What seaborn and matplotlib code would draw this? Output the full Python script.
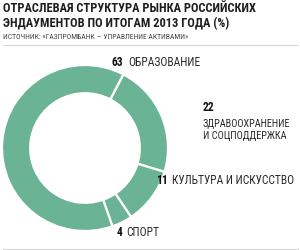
import matplotlib
matplotlib.use("Agg")
import matplotlib.pyplot as plt
import seaborn as sns
from matplotlib.lines import Line2D

# data (clockwise order starting from the top-right)
values = [22, 11, 4, 63]
names = ["ЗДРАВООХРАНЕНИЕ\nИ СОЦПОДДЕРЖКА", "КУЛЬТУРА И ИСКУССТВО", "СПОРТ", "ОБРАЗОВАНИЕ"]
title = "ОТРАСЛЕВАЯ СТРУКТУРА РЫНКА РОССИЙСКИХ\nЭНДАУМЕНТОВ ПО ИТОГАМ 2013 ГОДА (%)"
source = "ИСТОЧНИК: «ГАЗПРОМБАНК — УПРАВЛЕНИЕ АКТИВАМИ»"

sns.set_theme(style="white")
plt.rcParams['font.family'] = ['Roboto Condensed', 'PT Sans Narrow', 'Sofia Sans Condensed',
                               'Liberation Sans', 'DejaVu Sans']

W, H = 300, 250
green = "#6ab394"

fig = plt.figure(figsize=(3, 2.5), dpi=100)
fig.patch.set_facecolor("white")

def fx(x):
    return x / W

def fy(y):
    return 1 - y / H

# donut
cx, cy, r = 85, 148, 83
ax = fig.add_axes([fx(cx - r), fy(cy + r), 2 * r / W, 2 * r / H])
ax.pie(values, colors=[green] * len(values), startangle=62.5, counterclock=False,
       radius=1, wedgeprops=dict(width=0.34, edgecolor="white", linewidth=1.6))
ax.set_xlim(-1, 1)
ax.set_ylim(-1, 1)
ax.set_aspect("equal")
ax.axis("off")

# header
fig.text(fx(3), fy(16), title, fontsize=8.9, fontweight="bold", color="#1e1e1e",
         va="center", ha="left", linespacing=1.25)
fig.text(fx(3), fy(37), source, fontsize=5.5, color="#444444", va="center", ha="left")
fig.add_artist(Line2D([fx(3), fx(298)], [fy(45), fy(45)], color="#d8d8d8", lw=0.8))
fig.add_artist(Line2D([fx(3), fx(298)], [fy(249), fy(249)], color="#d8d8d8", lw=0.8))

# labels
lab = dict(fontsize=8.3, color="#2a2a2a", va="center", ha="left")
num = dict(fontsize=8.3, color="#111111", fontweight="bold", va="center", ha="left")

fig.text(fx(112), fy(62), str(values[3]), **num)
fig.text(fx(128), fy(62), names[3], **lab)

fig.text(fx(203), fy(108), str(values[0]), **num)
fig.text(fx(203), fy(130), names[0], linespacing=1.15,
         **{**lab, "fontsize": 7.4})

fig.text(fx(156), fy(181), str(values[1]), **num)
fig.text(fx(172), fy(181), names[1], **lab)

fig.text(fx(117), fy(232), str(values[2]), **num)
fig.text(fx(126), fy(232), names[2], **lab)

fig.savefig("out.png", dpi=100, facecolor="white")
